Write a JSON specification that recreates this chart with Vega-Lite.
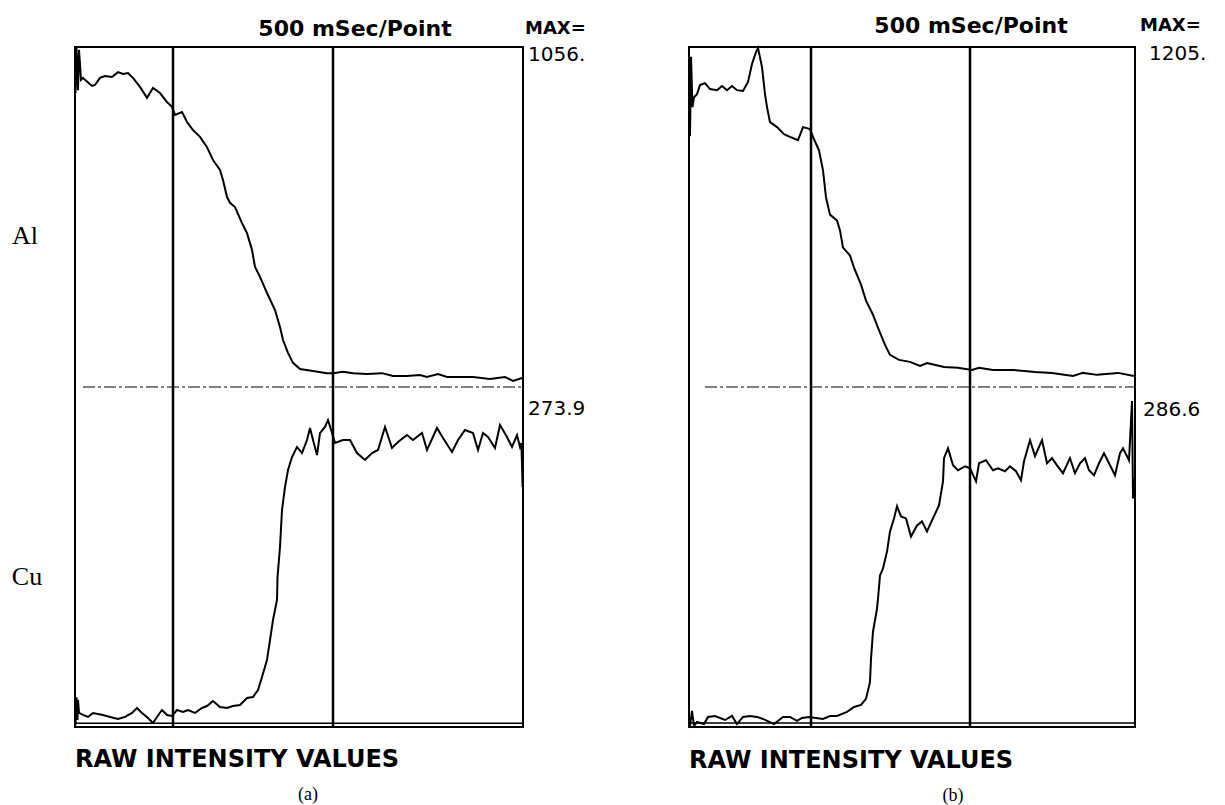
{
  "$schema": "https://vega.github.io/schema/vega-lite/v6.json",
  "background": "white",
  "padding": {"left": 10, "top": 14, "right": 2, "bottom": 0},
  "bounds": "flush",
  "spacing": 166,
  "config": {
    "view": {"stroke": "black", "strokeWidth": 2},
    "text": {"font": "DejaVu Sans", "color": "black"}
  },
  "datasets": {
    "alA": [
      {"time":0.125,"intensity":913},{"time":0.375,"intensity":1053},{"time":0.75,"intensity":922},{"time":1.0,"intensity":1047},{"time":1.5,"intensity":954},{"time":2.0,"intensity":960},{"time":2.5,"intensity":954},{"time":4.25,"intensity":935},{"time":5.0,"intensity":938},{"time":6.25,"intensity":960},{"time":7.5,"intensity":966},{"time":9.25,"intensity":963},{"time":10.75,"intensity":978},{"time":12.0,"intensity":972},{"time":13.25,"intensity":975},{"time":14.5,"intensity":960},{"time":16.25,"intensity":932},{"time":18.0,"intensity":898},{"time":19.5,"intensity":929},{"time":21.25,"intensity":913},{"time":23.0,"intensity":885},{"time":24.25,"intensity":870},{"time":25.0,"intensity":845},{"time":26.75,"intensity":854},{"time":28.0,"intensity":823},{"time":29.5,"intensity":798},{"time":31.25,"intensity":777},{"time":33.0,"intensity":745},{"time":34.5,"intensity":705},{"time":36.25,"intensity":674},{"time":37.0,"intensity":643},{"time":38.0,"intensity":590},{"time":38.75,"intensity":572},{"time":40.0,"intensity":559},{"time":41.75,"intensity":509},{"time":43.0,"intensity":478},{"time":44.25,"intensity":426},{"time":45.0,"intensity":373},{"time":46.25,"intensity":342},{"time":48.0,"intensity":292},{"time":50.0,"intensity":239},{"time":51.25,"intensity":186},{"time":52.0,"intensity":146},{"time":53.25,"intensity":106},{"time":54.5,"intensity":75},{"time":56.25,"intensity":56},{"time":59.5,"intensity":50},{"time":63.0,"intensity":43},{"time":64.5,"intensity":43},{"time":67.0,"intensity":47},{"time":69.5,"intensity":43},{"time":73.0,"intensity":40},{"time":76.75,"intensity":43},{"time":79.5,"intensity":34},{"time":83.0,"intensity":34},{"time":86.25,"intensity":37},{"time":88.0,"intensity":31},{"time":90.75,"intensity":40},{"time":93.0,"intensity":31},{"time":99.5,"intensity":31},{"time":103.75,"intensity":25},{"time":107.5,"intensity":31},{"time":109.5,"intensity":19},{"time":111.75,"intensity":28}
    ],
    "cuA": [
      {"time":0.125,"intensity":1.6},{"time":0.375,"intensity":24},{"time":0.625,"intensity":5.6},{"time":0.75,"intensity":21.8},{"time":1.0,"intensity":11.3},{"time":2.0,"intensity":9.7},{"time":3.25,"intensity":8.1},{"time":4.5,"intensity":11.3},{"time":7.0,"intensity":9.7},{"time":8.75,"intensity":8.1},{"time":10.75,"intensity":6.4},{"time":12.5,"intensity":8.1},{"time":14.25,"intensity":11.3},{"time":15.5,"intensity":15.3},{"time":16.75,"intensity":11.3},{"time":18.25,"intensity":7.3},{"time":19.5,"intensity":3.2},{"time":20.5,"intensity":8.1},{"time":21.75,"intensity":13.7},{"time":23.0,"intensity":9.7},{"time":24.25,"intensity":8.9},{"time":25.5,"intensity":13.7},{"time":27.0,"intensity":12.1},{"time":28.25,"intensity":13.7},{"time":30.0,"intensity":11.3},{"time":31.75,"intensity":15.3},{"time":33.0,"intensity":16.9},{"time":34.5,"intensity":20.9},{"time":36.25,"intensity":16.1},{"time":38.0,"intensity":15.3},{"time":39.5,"intensity":16.9},{"time":41.25,"intensity":17.7},{"time":43.0,"intensity":23.4},{"time":44.5,"intensity":24.2},{"time":45.75,"intensity":29.8},{"time":46.75,"intensity":40.3},{"time":48.0,"intensity":54.0},{"time":48.75,"intensity":70.1},{"time":49.5,"intensity":86.2},{"time":50.5,"intensity":102.3},{"time":50.625,"intensity":120.8},{"time":51.25,"intensity":145.0},{"time":51.75,"intensity":174.8},{"time":52.5,"intensity":193.3},{"time":53.25,"intensity":207.0},{"time":54.25,"intensity":217.5},{"time":55.5,"intensity":225.6},{"time":56.75,"intensity":220.7},{"time":58.0,"intensity":231.2},{"time":58.75,"intensity":240.9},{"time":59.5,"intensity":231.2},{"time":60.5,"intensity":219.1},{"time":61.25,"intensity":236.8},{"time":62.5,"intensity":241.7},{"time":63.25,"intensity":247.3},{"time":64.25,"intensity":236.8},{"time":65.0,"intensity":228.8},{"time":67.0,"intensity":231.2},{"time":68.75,"intensity":231.2},{"time":70.5,"intensity":220.7},{"time":72.5,"intensity":215.1},{"time":74.25,"intensity":220.7},{"time":75.75,"intensity":223.2},{"time":77.5,"intensity":241.7},{"time":79.25,"intensity":224.8},{"time":80.75,"intensity":229.6},{"time":83.0,"intensity":235.2},{"time":84.5,"intensity":231.2},{"time":86.75,"intensity":236.8},{"time":88.0,"intensity":223.2},{"time":90.5,"intensity":240.9},{"time":92.0,"intensity":232.8},{"time":94.25,"intensity":221.5},{"time":95.75,"intensity":231.2},{"time":97.5,"intensity":239.3},{"time":99.5,"intensity":236.8},{"time":100.75,"intensity":223.2},{"time":102.0,"intensity":236.8},{"time":103.25,"intensity":233.6},{"time":105.0,"intensity":224.8},{"time":106.25,"intensity":243.3},{"time":108.0,"intensity":233.6},{"time":109.25,"intensity":225.6},{"time":110.5,"intensity":235.2},{"time":111.25,"intensity":225.6},{"time":111.6,"intensity":228.8},{"time":111.9,"intensity":193.3}
    ],
    "alB": [
      {"time":0.25,"intensity":889},{"time":0.5,"intensity":1170},{"time":0.875,"intensity":992},{"time":1.25,"intensity":1027},{"time":2.0,"intensity":1038},{"time":2.75,"intensity":1070},{"time":4.0,"intensity":1077},{"time":5.25,"intensity":1056},{"time":7.0,"intensity":1052},{"time":8.25,"intensity":1067},{"time":9.5,"intensity":1052},{"time":10.75,"intensity":1067},{"time":12.0,"intensity":1052},{"time":13.5,"intensity":1049},{"time":14.75,"intensity":1081},{"time":15.75,"intensity":1145},{"time":16.75,"intensity":1187},{"time":17.25,"intensity":1202},{"time":18.25,"intensity":1134},{"time":19.0,"intensity":1038},{"time":19.5,"intensity":992},{"time":20.25,"intensity":939},{"time":22.0,"intensity":921},{"time":23.75,"intensity":896},{"time":25.5,"intensity":885},{"time":27.25,"intensity":875},{"time":28.5,"intensity":921},{"time":30.25,"intensity":914},{"time":31.25,"intensity":878},{"time":32.5,"intensity":839},{"time":33.5,"intensity":768},{"time":34.25,"intensity":672},{"time":35.25,"intensity":611},{"time":37.0,"intensity":590},{"time":37.75,"intensity":555},{"time":38.5,"intensity":494},{"time":40.25,"intensity":466},{"time":41.25,"intensity":423},{"time":43.0,"intensity":363},{"time":44.25,"intensity":306},{"time":46.0,"intensity":256},{"time":47.25,"intensity":210},{"time":49.0,"intensity":149},{"time":50.25,"intensity":114},{"time":52.5,"intensity":96},{"time":55.25,"intensity":89},{"time":57.75,"intensity":75},{"time":59.5,"intensity":85},{"time":63.75,"intensity":71},{"time":67.25,"intensity":68},{"time":70.75,"intensity":60},{"time":72.5,"intensity":68},{"time":76.0,"intensity":60},{"time":81.25,"intensity":60},{"time":86.5,"intensity":53},{"time":90.75,"intensity":50},{"time":96.0,"intensity":39},{"time":98.5,"intensity":50},{"time":102.0,"intensity":43},{"time":107.25,"intensity":50},{"time":111.25,"intensity":39}
    ],
    "cuB": [
      {"time":0.25,"intensity":0.8},{"time":0.75,"intensity":13.5},{"time":1.25,"intensity":0.8},{"time":2.0,"intensity":4.2},{"time":3.75,"intensity":2.5},{"time":4.75,"intensity":8.5},{"time":6.5,"intensity":9.3},{"time":9.0,"intensity":5.9},{"time":10.75,"intensity":9.3},{"time":12.0,"intensity":2.5},{"time":13.5,"intensity":8.5},{"time":15.25,"intensity":9.3},{"time":17.0,"intensity":8.5},{"time":18.5,"intensity":6.8},{"time":21.25,"intensity":2.5},{"time":23.5,"intensity":8.5},{"time":25.25,"intensity":8.5},{"time":27.0,"intensity":5.1},{"time":28.25,"intensity":7.6},{"time":30.0,"intensity":8.5},{"time":31.75,"intensity":7.6},{"time":33.5,"intensity":6.8},{"time":35.25,"intensity":9.3},{"time":37.0,"intensity":9.3},{"time":39.5,"intensity":12.7},{"time":41.25,"intensity":16.9},{"time":43.0,"intensity":18.6},{"time":44.25,"intensity":23.7},{"time":45.25,"intensity":38.0},{"time":45.5,"intensity":57.5},{"time":46.0,"intensity":80.3},{"time":47.0,"intensity":99.8},{"time":47.25,"intensity":108.2},{"time":47.75,"intensity":127.7},{"time":48.5,"intensity":133.6},{"time":49.5,"intensity":147.9},{"time":50.25,"intensity":164.9},{"time":51.25,"intensity":175.8},{"time":52.0,"intensity":186.0},{"time":53.0,"intensity":177.5},{"time":54.25,"intensity":175.8},{"time":55.5,"intensity":160.6},{"time":57.0,"intensity":169.9},{"time":58.25,"intensity":173.3},{"time":59.5,"intensity":164.9},{"time":60.75,"intensity":174.2},{"time":62.5,"intensity":186.8},{"time":63.5,"intensity":207.1},{"time":63.75,"intensity":226.6},{"time":64.75,"intensity":235.0},{"time":66.0,"intensity":220.6},{"time":67.25,"intensity":216.4},{"time":69.0,"intensity":219.8},{"time":70.25,"intensity":218.1},{"time":71.75,"intensity":207.1},{"time":72.5,"intensity":222.3},{"time":74.25,"intensity":224.9},{"time":76.0,"intensity":216.4},{"time":77.25,"intensity":218.1},{"time":79.0,"intensity":215.6},{"time":80.25,"intensity":219.8},{"time":81.75,"intensity":215.6},{"time":83.0,"intensity":208.0},{"time":83.75,"intensity":224.0},{"time":85.25,"intensity":241.8},{"time":86.5,"intensity":228.3},{"time":88.25,"intensity":241.8},{"time":89.5,"intensity":222.3},{"time":90.75,"intensity":226.6},{"time":92.0,"intensity":220.6},{"time":93.5,"intensity":213.9},{"time":95.25,"intensity":226.6},{"time":96.5,"intensity":213.9},{"time":97.75,"intensity":222.3},{"time":99.0,"intensity":226.6},{"time":100.0,"intensity":216.4},{"time":101.25,"intensity":212.2},{"time":102.5,"intensity":222.3},{"time":103.75,"intensity":230.8},{"time":105.25,"intensity":220.6},{"time":106.5,"intensity":212.2},{"time":107.75,"intensity":230.8},{"time":108.5,"intensity":235.0},{"time":110.0,"intensity":224.9},{"time":110.75,"intensity":274.8},{"time":111.0,"intensity":192.7},{"time":111.25,"intensity":209.7}
    ]
  },
  "hconcat": [
    {
      "width": 448,
      "height": 680,
      "resolve": {"scale": {"y": "independent"}},
      "layer": [
        {
          "data": {"name": "cuA"},
          "mark": {"type": "line", "color": "black", "strokeWidth": 2},
          "encoding": {
            "x": {"field": "time", "type": "quantitative", "scale": {"domain": [0, 112], "nice": false, "zero": false}, "axis": null},
            "y": {"field": "intensity", "type": "quantitative", "scale": {"domain": [0, 547.8], "nice": false, "zero": false}, "axis": null}
          }
        },
        {
          "data": {"values": [{}]},
          "layer": [
            {
              "data": {"name": "alA"},
              "mark": {"type": "line", "color": "black", "strokeWidth": 2},
              "encoding": {
                "x": {"field": "time", "type": "quantitative", "scale": {"domain": [0, 112], "nice": false, "zero": false}, "axis": null},
                "y": {"field": "intensity", "type": "quantitative", "scale": {"domain": [-1056, 1056], "nice": false, "zero": false}, "axis": null}
              }
            },
            {"mark": {"type": "rule", "color": "black", "strokeWidth": 2.5}, "encoding": {"x": {"datum": 24.5}}},
            {"mark": {"type": "rule", "color": "black", "strokeWidth": 2.5}, "encoding": {"x": {"datum": 64.5}}},
            {"mark": {"type": "rule", "color": "black", "strokeWidth": 1.5}, "encoding": {"y": {"datum": -1044}}},
            {"mark": {"type": "rule", "color": "black", "strokeWidth": 1, "strokeDash": [12, 3, 3, 3]}, "encoding": {"x": {"datum": 2}, "x2": {"datum": 112}, "y": {"datum": 0}}},
            {"mark": {"type": "text", "fontSize": 22, "fontWeight": "bold", "align": "center", "baseline": "middle"}, "encoding": {"x": {"datum": 70}, "y": {"datum": 1112}, "text": {"value": "500 mSec/Point"}}},
            {"mark": {"type": "text", "fontSize": 18, "fontWeight": "bold", "align": "left", "baseline": "middle"}, "encoding": {"x": {"datum": 112.5}, "y": {"datum": 1112}, "text": {"value": "MAX="}}},
            {"mark": {"type": "text", "fontSize": 20, "align": "left", "baseline": "middle"}, "encoding": {"x": {"datum": 113.25}, "y": {"datum": 1031}, "text": {"value": "1056."}}},
            {"mark": {"type": "text", "fontSize": 20, "align": "left", "baseline": "middle"}, "encoding": {"x": {"datum": 113.25}, "y": {"datum": -68}, "text": {"value": "273.9"}}},
            {"mark": {"type": "text", "fontSize": 24, "fontWeight": "bold", "align": "left", "baseline": "middle"}, "encoding": {"x": {"datum": 0}, "y": {"datum": -1159}, "text": {"value": "RAW INTENSITY VALUES"}}},
            {"mark": {"type": "text", "fontSize": 18, "font": "Liberation Serif", "align": "center", "baseline": "middle"}, "encoding": {"x": {"datum": 58.25}, "y": {"datum": -1267}, "text": {"value": "(a)"}}},
            {"mark": {"type": "text", "fontSize": 26, "font": "Liberation Serif", "align": "center", "baseline": "middle"}, "encoding": {"x": {"datum": -12.5}, "y": {"datum": 468}, "text": {"value": "Al"}}},
            {"mark": {"type": "text", "fontSize": 26, "font": "Liberation Serif", "align": "center", "baseline": "middle"}, "encoding": {"x": {"datum": -12}, "y": {"datum": -590}, "text": {"value": "Cu"}}}
          ]
        }
      ]
    },
    {
      "width": 446,
      "height": 680,
      "resolve": {"scale": {"y": "independent"}},
      "layer": [
        {
          "data": {"name": "cuB"},
          "mark": {"type": "line", "color": "black", "strokeWidth": 2},
          "encoding": {
            "x": {"field": "time", "type": "quantitative", "scale": {"domain": [0, 111.5], "nice": false, "zero": false}, "axis": null},
            "y": {"field": "intensity", "type": "quantitative", "scale": {"domain": [0, 573.2], "nice": false, "zero": false}, "axis": null}
          }
        },
        {
          "data": {"values": [{}]},
          "layer": [
            {
              "data": {"name": "alB"},
              "mark": {"type": "line", "color": "black", "strokeWidth": 2},
              "encoding": {
                "x": {"field": "time", "type": "quantitative", "scale": {"domain": [0, 111.5], "nice": false, "zero": false}, "axis": null},
                "y": {"field": "intensity", "type": "quantitative", "scale": {"domain": [-1205, 1205], "nice": false, "zero": false}, "axis": null}
              }
            },
            {"mark": {"type": "rule", "color": "black", "strokeWidth": 2.5}, "encoding": {"x": {"datum": 30.5}}},
            {"mark": {"type": "rule", "color": "black", "strokeWidth": 2.5}, "encoding": {"x": {"datum": 70.25}}},
            {"mark": {"type": "rule", "color": "black", "strokeWidth": 1.5}, "encoding": {"y": {"datum": -1191}}},
            {"mark": {"type": "rule", "color": "black", "strokeWidth": 1, "strokeDash": [12, 3, 3, 3]}, "encoding": {"x": {"datum": 4}, "x2": {"datum": 111.5}, "y": {"datum": 0}}},
            {"mark": {"type": "text", "fontSize": 22, "fontWeight": "bold", "align": "center", "baseline": "middle"}, "encoding": {"x": {"datum": 70.5}, "y": {"datum": 1279}, "text": {"value": "500 mSec/Point"}}},
            {"mark": {"type": "text", "fontSize": 18, "fontWeight": "bold", "align": "left", "baseline": "middle"}, "encoding": {"x": {"datum": 112.75}, "y": {"datum": 1279}, "text": {"value": "MAX="}}},
            {"mark": {"type": "text", "fontSize": 20, "align": "left", "baseline": "middle"}, "encoding": {"x": {"datum": 115}, "y": {"datum": 1180}, "text": {"value": "1205."}}},
            {"mark": {"type": "text", "fontSize": 20, "align": "left", "baseline": "middle"}, "encoding": {"x": {"datum": 113.5}, "y": {"datum": -82}, "text": {"value": "286.6"}}},
            {"mark": {"type": "text", "fontSize": 24, "fontWeight": "bold", "align": "left", "baseline": "middle"}, "encoding": {"x": {"datum": 0}, "y": {"datum": -1326}, "text": {"value": "RAW INTENSITY VALUES"}}},
            {"mark": {"type": "text", "fontSize": 18, "font": "Liberation Serif", "align": "center", "baseline": "middle"}, "encoding": {"x": {"datum": 66}, "y": {"datum": -1450}, "text": {"value": "(b)"}}}
          ]
        }
      ]
    }
  ]
}
